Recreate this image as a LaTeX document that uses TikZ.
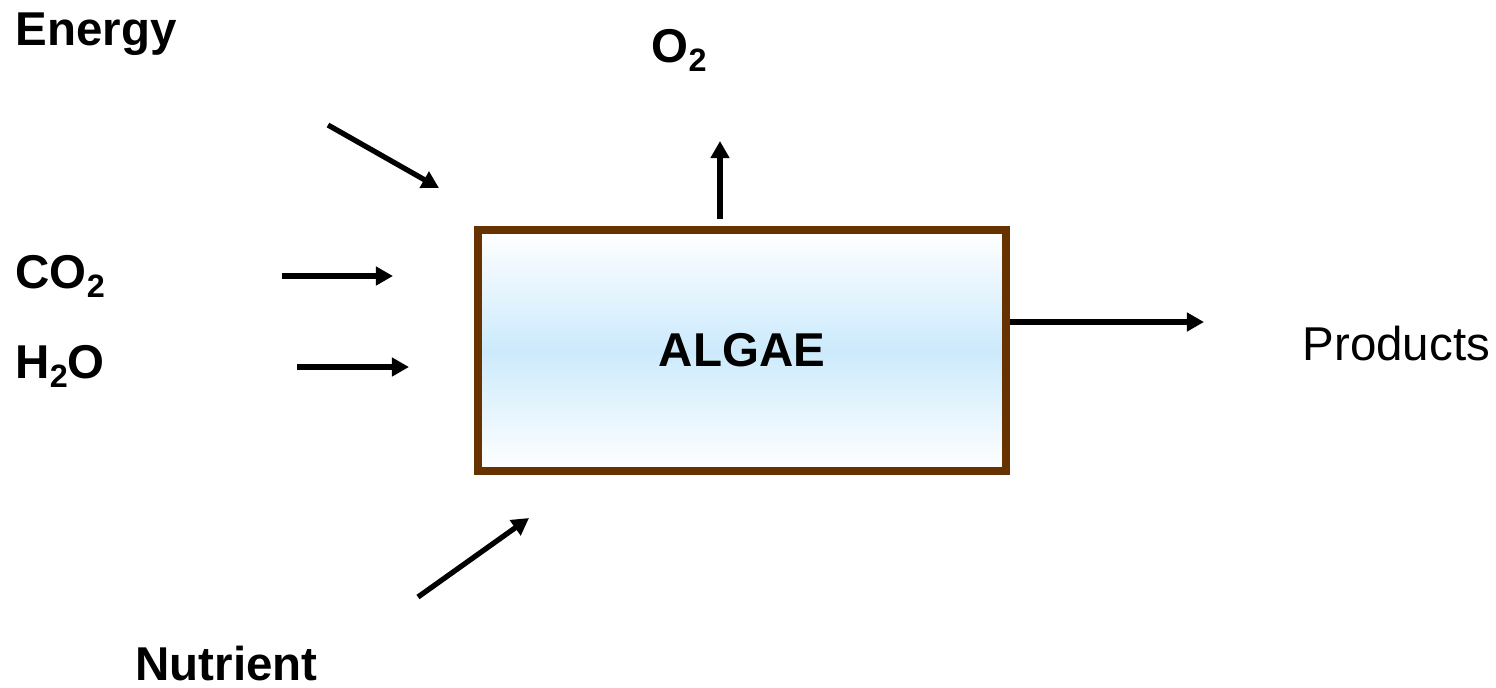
\documentclass[tikz,border=0pt]{standalone}
\usepackage{fontspec}
\setmainfont{Liberation Sans}
\usetikzlibrary{arrows.meta}
\definecolor{algaebrown}{RGB}{102,51,0}
\definecolor{algaeblue}{RGB}{204,234,252}
\newcommand{\chemsub}[1]{\raisebox{-2.8pt}{\fontsize{9.2}{10}\selectfont #1}}

\begin{document}
\begin{tikzpicture}[x=0.01cm, y=-0.01cm, >={Triangle[length=0.17cm,width=0.18cm]},
		flow/.style={->, line width=1.5pt},
		lbl/.style={anchor=base west, inner sep=0pt, font=\fontsize{13.5}{16}\selectfont\bfseries}]
		\useasboundingbox (0,0) rectangle (1496,687);

		% Nodes
		\node[draw=algaebrown, line width=0.08cm, minimum width=5.28cm, minimum height=2.4cm,
			top color=white, bottom color=white, middle color=algaeblue,
			font=\fontsize{13.5}{16}\selectfont\bfseries] (algae) at (742,350.5) {ALGAE};
		\node[lbl] (energy) at (15,45) {Energy};
		\node[lbl] (co2) at (15,288) {CO\chemsub{2}};
		\node[lbl] (h2o) at (15,378) {H\chemsub{2}O};
		\node[lbl] (nutrient) at (135,680) {Nutrient};
		\node[lbl] (o2) at (651,62) {O\chemsub{2}};
		\node[lbl, font=\fontsize{13.5}{16}\selectfont] (products) at (1302,360) {Products};

		% Arrow ends
		\coordinate (energy-start) at (328,125);
		\coordinate (energy-tip) at (439,188);
		\coordinate (co2-start) at (282,276);
		\coordinate (co2-tip) at (393,276);
		\coordinate (h2o-start) at (297,367);
		\coordinate (h2o-tip) at (409,367);
		\coordinate (nutrient-start) at (418,597);
		\coordinate (nutrient-tip) at (529,518);
		\coordinate (o2-start) at (720,219);
		\coordinate (o2-tip) at (720,141);
		\coordinate (products-tip) at (1204,322);

		% Arrows
		\draw[flow] (energy-start) -- (energy-tip);
		\draw[flow] (co2-start) -- (co2-tip);
		\draw[flow] (h2o-start) -- (h2o-tip);
		\draw[flow] (nutrient-start) -- (nutrient-tip);
		\draw[flow] (o2-start) -- (o2-tip);
		\draw[flow] (algae.east |- products-tip) -- (products-tip);
	\end{tikzpicture}
\end{document}
